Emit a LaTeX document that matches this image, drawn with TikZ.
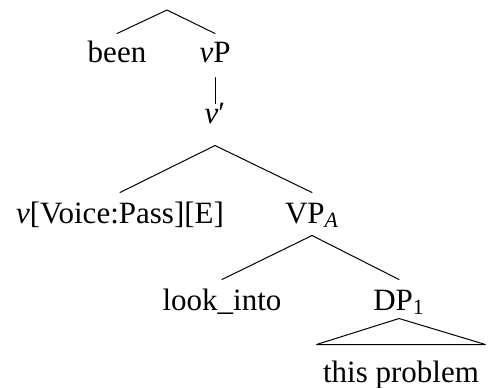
\documentclass[tikz,border=0pt]{standalone}
\usepackage{fontspec}
\setmainfont{Liberation Serif}
\begin{document}
\begin{tikzpicture}[x=.5pt,y=-.5pt,line join=round,line cap=round,line width=.5pt,font=\fontsize{15.5}{18}\selectfont,
	tnode/.style={inner sep=0pt,anchor=base,text height=15pt,text depth=6pt}]
	\useasboundingbox (0,0) rectangle (490,387);
	\coordinate (root) at (167,10);
	\node[tnode,text height=14pt] (been) at (117,62) {been};
	\node[tnode,text height=14pt,text depth=7.5pt] (vP) at (215,62) {\textit{v}P};
	\node[tnode,text height=9.5pt,text depth=11pt] (vbar) at (215,123) {\textit{v}′};
	\node[tnode] (vvoice) at (120,223) {\textit{v}[Voice:Pass][E]};
	\node[tnode] (VPA) at (312,223) {VP\textsubscript{\textit{A}}};
	\node[tnode] (look) at (222,310) {look\_into};
	\node[tnode,text depth=4pt] (DP) at (399,310) {DP\textsubscript{1}};
	\node[tnode,text height=18.5pt,inner xsep=3pt] (prob) at (401,382) {this problem};
	\draw (been.north)--(root)--(vP.north);
	\foreach \a/\b in {vP/vbar,vbar/vvoice,vbar/VPA,VPA/look,VPA/DP}\draw (\a.south)--(\b.north);
	\draw (DP.south)--(prob.north west)--(prob.north east)--cycle;
\end{tikzpicture}
\end{document}
